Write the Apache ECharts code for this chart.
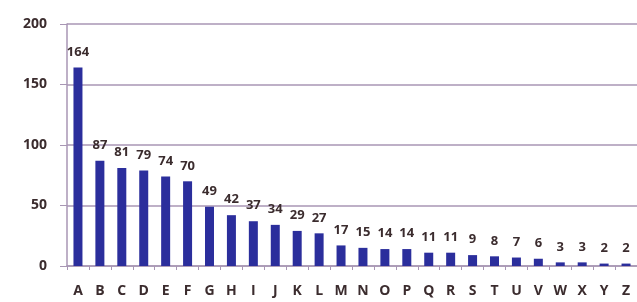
<!DOCTYPE html>
<html>
<head>
<meta charset="utf-8">
<script src="https://cdn.jsdelivr.net/npm/echarts@6/dist/echarts.min.js"></script>
<style>
    html, body { margin: 0; padding: 0; background: #fff; }
    #chart { width: 637px; height: 302px; }
</style>
</head>
<body>
<div id="chart"></div>
<script>
// 数据
var letters = ['A', 'B', 'C', 'D', 'E', 'F', 'G', 'H', 'I', 'J', 'K', 'L', 'M',
    'N', 'O', 'P', 'Q', 'R', 'S', 'T', 'U', 'V', 'W', 'X', 'Y', 'Z'];
var counts = [164, 87, 81, 79, 74, 70, 49, 42, 37, 34, 29, 27, 17,
    15, 14, 14, 11, 11, 9, 8, 7, 6, 3, 3, 2, 2];
var yTicks = [0, 50, 100, 150, 200];

var myChart = echarts.init(document.getElementById('chart'));
var textColor = '#3b2c2e';
var lineColor = '#a896b4';

var option = {
    animation: false,
    backgroundColor: '#fff',
    textStyle: { fontFamily: 'Open Sans' },
    // 网格
    grid: {
        left: 67,
        right: 0,
        top: 24,
        bottom: 36
    },
    xAxis: {
        type: 'category',
        data: letters,
        axisLine: { lineStyle: { color: lineColor, width: 1.5 } },
        axisTick: { show: true, length: 4, lineStyle: { color: lineColor } },
        axisLabel: {
            color: textColor,
            fontSize: 14,
            fontWeight: 'bold',
            margin: 18
        }
    },
    yAxis: {
        type: 'value',
        min: yTicks[0],
        max: yTicks[yTicks.length - 1],
        interval: 50,
        axisLine: { show: true, lineStyle: { color: lineColor, width: 1.5 } },
        axisTick: { show: true, length: 7, lineStyle: { color: lineColor } },
        splitLine: { lineStyle: { color: lineColor, width: 1.5 } },
        axisLabel: {
            color: textColor,
            fontSize: 14,
            fontWeight: 'bold',
            margin: 20
        }
    },
    series: [{
        type: 'bar',
        data: counts,
        barWidth: 9,
        itemStyle: { color: '#2b2e9c' },
        label: {
            show: true,
            position: 'top',
            distance: 9,
            color: textColor,
            fontSize: 13,
            fontWeight: 'bold'
        }
    }]
};
myChart.setOption(option);
</script>
</body>
</html>
